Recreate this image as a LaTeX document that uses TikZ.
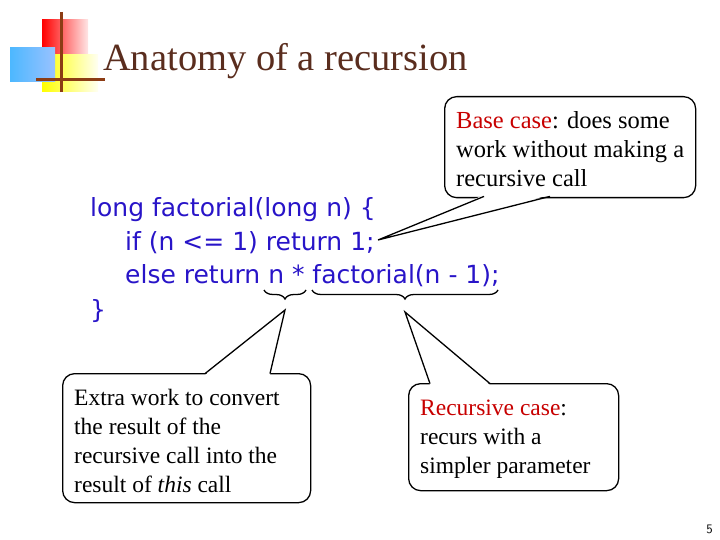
\documentclass[tikz,border=0pt]{standalone}
\usepackage{fontspec}
\setmainfont{Liberation Serif}
\newfontfamily\codefont{DejaVu Sans}
\usetikzlibrary{decorations.pathreplacing}
\definecolor{codeblue}{RGB}{40,20,200}
\definecolor{titlebrown}{RGB}{90,45,30}
\definecolor{logobrown}{RGB}{140,60,20}
\definecolor{redc}{RGB}{200,0,0}
\tikzset{
 code/.style={anchor=base west,inner sep=0,font=\codefont\fontsize{25}{25}\selectfont,text=codeblue},
 txt/.style={anchor=north west,inner sep=0,align=left,font=\fontsize{23.5}{29}\selectfont},
 bubble/.style={draw=black,line width=1.3pt,rounded corners=12pt,fill=white},
 tail/.style={line width=1.3pt},
 brc/.style={line width=1.3pt,decorate,decoration={brace,mirror,amplitude=9pt}}
}
\begin{document}
\begin{tikzpicture}[x=1pt,y=-1pt]
\useasboundingbox (0,0) rectangle (720,540);
% logo
\shade[left color=red,right color=red!10] (42,20) rectangle (88,55);
\shade[left color=yellow,right color=yellow!5] (42,55) rectangle (98,92);
\shade[left color=cyan!60!blue!70,right color=cyan!40!blue!40] (10,48) rectangle (55,82);
\draw[logobrown,line width=3pt] (61,12) -- (61,92);
\draw[logobrown,line width=3pt] (36,80) -- (105,80);
\node[anchor=base west,inner sep=0,text=titlebrown,font=\fontsize{38.5}{38.5}\selectfont] (title) at (103,71) {Anatomy of a recursion};
% code
\node[code] (l1) at (90,217) {long factorial(long n) \{};
\node[code] (l2) at (125,250) {if (n <= 1) return 1;};
\node[code] (l3) at (125,283) {else return n * factorial(n - 1);};
\node[code] (l4) at (90,318) {\}};
% braces
\coordinate (b1a) at (264,290); \coordinate (b1b) at (306,290);
\coordinate (b2a) at (312,290); \coordinate (b2b) at (498,290);
\draw[brc] (b1a) -- (b1b);
\draw[brc] (b2a) -- (b2b);
\coordinate (t1) at (285,310);
\coordinate (t2) at (405,312);
\coordinate (t3) at (378,240);
% base case bubble
\node[bubble,minimum width=251pt,minimum height=101pt,anchor=north west] (base) at (444,96) {};
\node[txt,font=\fontsize{24.5}{29}\selectfont] (basetxt) at (456,111) {\textcolor{redc}{Base case}: does some\\work without making a\\recursive call};
\fill[white] (t3) -- (484,195) -- (550,195) -- cycle;
\draw[tail] (484,196.4) -- (t3) -- (550,196.4);
% extra work bubble
\node[bubble,minimum width=248pt,minimum height=129pt,anchor=north west] (extra) at (62,373) {};
\node[txt] (extratxt) at (74,389) {Extra work to convert\\the result of the\\recursive call into the\\result of \textit{this} call};
\fill[white] (t1) -- (205,375) -- (270,375) -- cycle;
\draw[tail] (205,373.6) -- (t1) -- (270,373.6);
% recursive case bubble
\node[bubble,minimum width=210pt,minimum height=107pt,anchor=north west] (rec) at (408,383) {};
\node[txt] (rectxt) at (420,400) {\textcolor{redc}{Recursive case}:\\recurs with a\\simpler parameter};
\fill[white] (t2) -- (430,385) -- (490,385) -- cycle;
\draw[tail] (430,383.6) -- (t2) -- (490,383.6);
% page number
\node[anchor=base east,inner sep=0,font=\sffamily\fontsize{13}{13}\selectfont] (pg) at (713,533) {5};
\end{tikzpicture}
\end{document}
